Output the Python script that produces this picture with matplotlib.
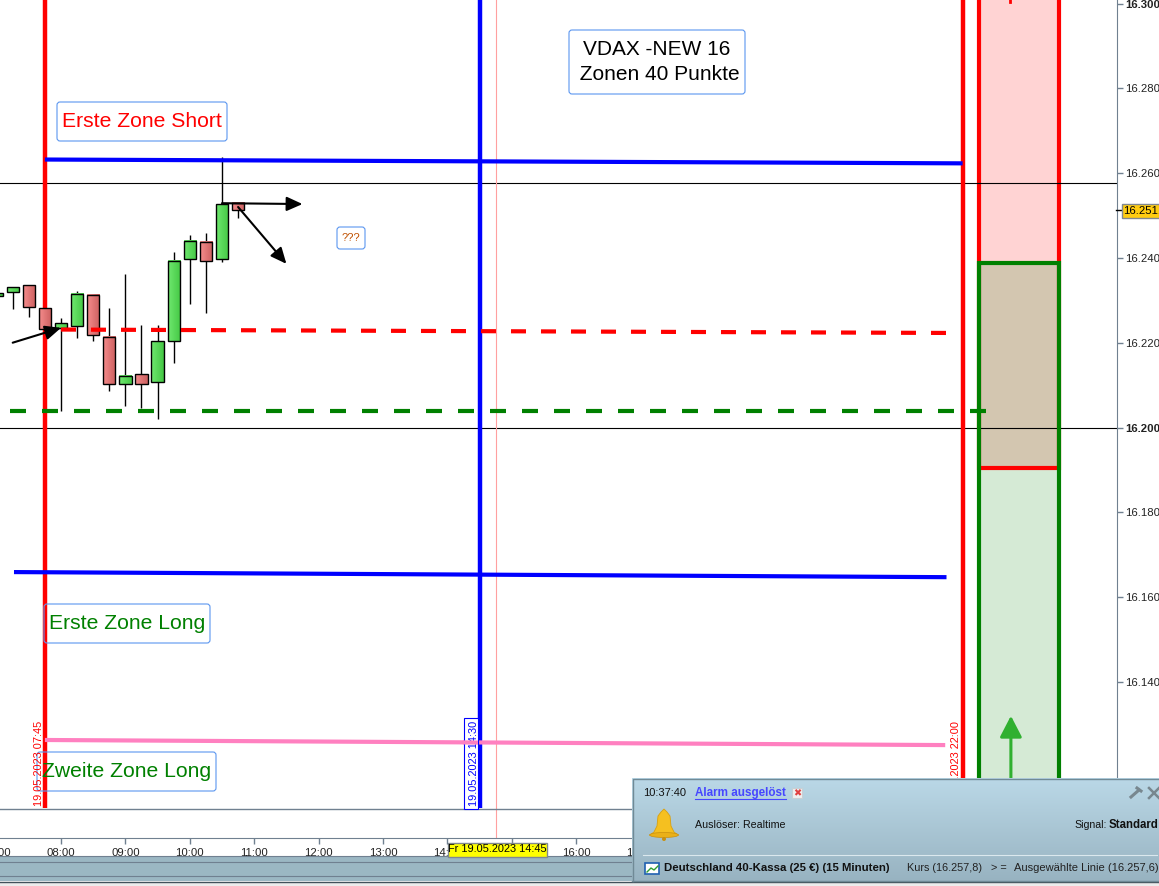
import numpy as np
import matplotlib
matplotlib.use('Agg')
import matplotlib.pyplot as plt
from matplotlib.patches import Rectangle, FancyBboxPatch, Polygon, Ellipse

plt.rcParams['font.family'] = ['Liberation Sans', 'DejaVu Sans']

# candles, times in hours
times = [7.0, 7.25, 7.5, 7.75, 8.0, 8.25, 8.5, 8.75, 9.0, 9.25, 9.5, 9.75, 10.0, 10.25, 10.5, 10.75]
opens = [16231.1, 16232.0, 16233.5, 16228.1, 16223.5, 16224.0, 16231.2, 16221.3, 16210.2, 16212.5, 16210.7, 16220.3, 16239.7, 16243.7, 16239.7, 16252.9]
closes = [16231.7, 16233.1, 16228.5, 16223.2, 16224.6, 16231.6, 16221.7, 16210.2, 16212.1, 16210.2, 16220.3, 16239.2, 16244.1, 16239.2, 16252.6, 16251.2]
highs = [16231.7, 16233.1, 16233.5, 16228.1, 16225.8, 16232.2, 16231.2, 16228.2, 16236.2, 16224.2, 16224.2, 16241.4, 16245.4, 16245.9, 16263.8, 16252.9]
lows = [16231.1, 16228.0, 16226.1, 16223.2, 16204.0, 16221.2, 16220.5, 16208.7, 16205.1, 16204.6, 16202.1, 16215.3, 16229.2, 16227.1, 16239.1, 16249.3]

price_ticks = [16140, 16160, 16180, 16200, 16220, 16240, 16260, 16280, 16300]
bold_ticks = [16200, 16300]
hour_ticks = [7, 8, 9, 10, 11, 12, 13, 14, 15, 16, 17]
hour_labels = ['07:00', '08:00', '09:00', '10:00', '11:00', '12:00', '13:00', '14:00', '', '16:00', '17:00']

# trend lines: start time, end time, start price, end price
blue_top = [7.75, 22.0, 16263.2, 16262.3]
red_dash = [8.0, 21.75, 16223.1, 16222.3]
green_dash = [7.21, 22.37, 16203.9, 16203.9]
blue_low = [7.27, 21.75, 16165.9, 16164.7]
pink = [7.75, 21.73, 16126.3, 16125.1]
h_lines = [16257.7, 16200.0]

zone_x = [22.25, 23.5]
zone_short_bottom = 16190.5
zone_long_top = 16238.8

W, H = 1159, 886
fig = plt.figure(figsize=(W / 100, H / 100), dpi=100, facecolor='white')

def box(l, t, r, b):
    return [l / W, 1 - b / H, (r - l) / W, (b - t) / H]

px_per_h = 64.4
x0 = 8 - 61 / px_per_h
x1 = x0 + 1116.5 / px_per_h

ax = fig.add_axes(box(0, 0, 1116.5, 808))

# zones
ax.add_patch(Rectangle((zone_x[0], zone_long_top), zone_x[1] - zone_x[0], 100, fc='#ffd3d3', ec='none', zorder=1))
ax.add_patch(Rectangle((zone_x[0], zone_short_bottom), zone_x[1] - zone_x[0], zone_long_top - zone_short_bottom, fc='#d3c6b0', ec='none', zorder=1))
ax.add_patch(Rectangle((zone_x[0], 16000), zone_x[1] - zone_x[0], zone_short_bottom - 16000, fc='#d5ead5', ec='none', zorder=1))
ax.plot([zone_x[0], zone_x[0], zone_x[1], zone_x[1]], [16400, zone_short_bottom, zone_short_bottom, 16400], color='#ff0000', lw=3, zorder=2, solid_joinstyle='miter')
ax.plot([zone_x[0], zone_x[0], zone_x[1], zone_x[1]], [16000, zone_long_top, zone_long_top, 16000], color='#008000', lw=3, zorder=3, solid_joinstyle='miter')

for y in h_lines:
    ax.axhline(y, color='black', lw=0.8, zorder=2)

# vertical markers
ax.axvline(7.75, color='#ff0000', lw=3.2, zorder=3)
ax.axvline(22.0, color='#ff0000', lw=3.2, zorder=3)
ax.axvline(14.5, color='#0000ff', lw=3.2, zorder=3)
ax.axvline(14.75, color='#ffa0a0', lw=0.8, zorder=3)

# candles with horizontal gradient
green_grad = matplotlib.colors.LinearSegmentedColormap.from_list('g', ['#6fe86f', '#45c845'])
red_grad = matplotlib.colors.LinearSegmentedColormap.from_list('r', ['#f58c8c', '#cc6060'])
grad = np.linspace(0, 1, 16).reshape(1, -1)
bw = 0.19
for t, o, c, h, l in zip(times, opens, closes, highs, lows):
    ax.plot([t, t], [l, h], color='black', lw=1, zorder=4, solid_capstyle='butt')
    ax.imshow(grad, cmap=green_grad if c >= o else red_grad, aspect='auto', zorder=5,
              extent=[t - bw / 2, t + bw / 2, min(o, c), max(o, c)])
    ax.add_patch(Rectangle((t - bw / 2, min(o, c)), bw, abs(c - o), fc='none', ec='black', lw=1, zorder=5))

# trend lines
ax.plot(blue_top[:2], blue_top[2:], color='#0000ff', lw=3, zorder=6, solid_capstyle='butt')
ax.plot(red_dash[:2], red_dash[2:], color='#ff0000', lw=3, zorder=6, dashes=(3.6, 3.6), dash_capstyle='butt')
ax.plot(green_dash[:2], green_dash[2:], color='#008000', lw=3, zorder=6, dashes=(3.84, 3.84), dash_capstyle='butt')
ax.plot(blue_low[:2], blue_low[2:], color='#0000ff', lw=3, zorder=6, solid_capstyle='butt')
ax.plot(pink[:2], pink[2:], color='#ff80c0', lw=3, zorder=6, solid_capstyle='butt')

# arrows
def arrow(t0, p0, t1, p1, col='black', lw=1.5, ms=16, hl=0.6, hw=0.27):
    ax.annotate('', xy=(t1, p1), xytext=(t0, p0), zorder=7, annotation_clip=False,
                arrowprops=dict(arrowstyle=f'-|>,head_length={hl},head_width={hw}', color=col, lw=lw, mutation_scale=ms, shrinkA=0, shrinkB=0))

arrow(7.25, 16220.0, 8.0, 16223.5)
arrow(10.5, 16252.9, 11.75, 16252.7)
arrow(10.75, 16252.0, 11.5, 16238.6)
arrow(22.75, 16110, 22.75, 16132, col='#30b030', lw=2.2, ms=24, hl=0.54, hw=0.28)

ax.set_xticks([])
ax.yaxis.tick_right()
ax.set_yticks(price_ticks)
ax.set_yticklabels([f'{p // 1000}.{p % 1000:03d}' for p in price_ticks], fontsize=8.2, color='#222222')
ax.tick_params(axis='y', length=4, width=1, color='#708090', pad=2)
ax.set_xlim(x0, x1)
ax.set_ylim(16200 + (427.5 - 808) / 4.24, 16200 + 427.5 / 4.24)
for lab, p in zip(ax.get_yticklabels(), price_ticks):
    if p in bold_ticks:
        lab.set_fontweight('bold')
for s in ['top', 'left']:
    ax.spines[s].set_visible(False)
ax.spines['right'].set_color('#708090')
ax.spines['bottom'].set_visible(False)

# time axis strip, starts left of the figure so 07:00 is still drawn and cut
ax_t = fig.add_axes(box(-20, 808, 1116.5, 838))
ax_t.set_xticks(hour_ticks)
ax_t.set_xticklabels(hour_labels, fontsize=8.2, color='#222222')
ax_t.set_yticks([])
ax_t.tick_params(axis='x', length=4, width=1, color='#708090', pad=3)
ax_t.axvline(14.75, color='#ffa0a0', lw=0.8)
ax_t.set_xlim(x0 - 20 / px_per_h, x1)
ax_t.set_ylim(0, 1)
for s in ['top', 'left']:
    ax_t.spines[s].set_visible(False)
ax_t.spines['right'].set_color('#708090')
ax_t.spines['bottom'].set_color('#708090')

# overlay in pixels: labels, tags, alarm popup
ov = fig.add_axes([0, 0, 1, 1], facecolor='none')
ov.set_xlim(0, W)
ov.set_ylim(H, 0)
ov.axis('off')

ov.plot([0, 1116], [808.5, 808.5], color='#708090', lw=1, zorder=4)
ov.plot([1116, 1121], [210, 210], color='black', lw=1, zorder=4)

def label(l, t, r, b, text, col, size=15.2, z=10):
    ov.add_patch(FancyBboxPatch((l + 2, t + 2), r - l - 4, b - t - 4, boxstyle='round,pad=2,rounding_size=3',
                                fc='none', ec='#5b96f0', lw=0.8, zorder=z))
    ov.text((l + r) / 2, (t + b) / 2, text, color=col, fontsize=size, ha='center', va='center', zorder=z + 1, linespacing=1.35)

label(569, 30, 745, 94, 'VDAX -NEW 16\n Zonen 40 Punkte', 'black', size=15)
label(57, 102, 227, 141, 'Erste Zone Short', '#ff0000')
label(337, 227, 365, 249, '???', '#c05000', size=8)
label(44, 604, 210, 643, 'Erste Zone Long', '#008000')
label(37, 752, 216, 791, 'Zweite Zone Long', '#008000')

# rotated date labels
ov.add_patch(Rectangle((463.5, 717.5), 14.5, 91, fc='white', ec='#0000ff', lw=0.8, zorder=8))
ov.text(39, 806, '19.05.2023 07:45', color='#ff0000', rotation=90, fontsize=7.9, ha='center', va='bottom', zorder=12)
ov.text(474, 806, '19.05.2023 14:30', color='#0000ff', rotation=90, fontsize=7.9, ha='center', va='bottom', zorder=9)
ov.plot([463, 478], [742.4, 742.6], color='#ff80c0', lw=3, zorder=9, solid_capstyle='butt')
ov.text(956, 806, '19.05.2023 22:00', color='#ff0000', rotation=90, fontsize=7.9, ha='center', va='bottom', zorder=9)
ov.plot([1010, 1010], [-1, 2], color='#ff0000', lw=2, zorder=9)

# price tag and time tag
ov.add_patch(Rectangle((1121.5, 203.5), 45, 14, fc='#ffcc10', ec='#808890', lw=1, zorder=10))
ov.text(1123, 210.5, '16.251,', fontsize=8.2, ha='left', va='center', color='black', zorder=11)
ov.add_patch(Rectangle((447.5, 842.5), 99, 14, fc='#ffff00', ec='#808890', lw=1, zorder=10))
ov.text(497, 849.5, 'Fr 19.05.2023 14:45', fontsize=7.9, ha='center', va='center', color='black', zorder=11)

# bottom chrome
ov.add_patch(Rectangle((0, 856), W, 25, fc='#9bb7c3', ec='none', zorder=5))
ov.plot([0, W], [861.5, 861.5], color='#708090', lw=0.8, zorder=6)
ov.plot([0, W], [876, 876], color='#708090', lw=0.8, zorder=6)
ov.plot([0, W], [856, 856], color='#708090', lw=0.8, zorder=6)
ov.plot([0, W], [881.5, 881.5], color='#40505a', lw=1, zorder=6)
ov.add_patch(Rectangle((0, 882), W, 4, fc='#ececec', ec='none', zorder=5))

# alarm popup
pop = np.linspace(0, 1, 64).reshape(-1, 1)
pop_cmap = matplotlib.colors.LinearSegmentedColormap.from_list('pop', ['#bad8e7', '#98b3c1'])
ov.imshow(pop, cmap=pop_cmap, aspect='auto', extent=[632, W, 881, 778], zorder=20)
ov.set_xlim(0, W)
ov.set_ylim(H, 0)
ov.plot([632.5, 632.5, W], [881, 778.5, 778.5], color='#708a96', lw=1, zorder=21)
ov.plot([632, W], [881, 881], color='#708a96', lw=1, zorder=21)
ov.text(643, 793, '10:37:40', fontsize=8.0, va='center', zorder=22, color='#111111')
ov.text(695, 793, 'Alarm ausgelöst', fontsize=8.4, va='center', weight='bold', color='#4646ff', zorder=22)
ov.plot([695, 786], [798.5, 798.5], color='#4646ff', lw=0.8, zorder=22)
ov.add_patch(Rectangle((792, 788), 10, 10, fc='#f0f0f0', ec='#c8d0d4', lw=0.8, zorder=22))
ov.text(797, 793, '✖', fontsize=7, color='#e04040', ha='center', va='center', zorder=23, family='DejaVu Sans')
ov.plot([1131, 1139], [797, 790], color='#78878f', lw=2.2, zorder=22)
ov.plot([1137, 1141], [788, 791], color='#78878f', lw=2.2, zorder=22)
ov.plot([1149, 1159], [788, 798], color='#78878f', lw=1.8, zorder=22)
ov.plot([1149, 1159], [798, 788], color='#78878f', lw=1.8, zorder=22)
ov.text(695, 825, 'Auslöser: Realtime', fontsize=7.7, va='center', zorder=22, color='#111111')
ov.text(1074, 825, 'Signal:', fontsize=7.6, va='center', zorder=22, color='#111111')
ov.text(1109, 825, 'Standard', fontsize=8.3, va='center', weight='bold', zorder=22, color='#111111')

# bell
ov.add_patch(Polygon([(664, 809), (667, 812), (670, 816), (671, 826), (674, 832), (678, 835), (650, 835),
                      (654, 832), (657, 826), (658, 816), (661, 812)],
                     fc='#f5c020', ec='#d8a010', lw=0.6, zorder=22))
ov.add_patch(Ellipse((664, 835), 29, 5, fc='#eab018', ec='#c89010', lw=0.5, zorder=22))
ov.add_patch(Ellipse((664, 839), 4, 4, fc='#c89010', ec='none', zorder=22))

ov.plot([643, 1157], [855, 855], color='#dbe8ee', lw=0.8, zorder=22)
ov.add_patch(Rectangle((645, 863), 14, 11, fc='white', ec='#2060b0', lw=1.2, zorder=22))
ov.plot([647, 651, 654, 658], [872, 868, 870, 866], color='#30a030', lw=1, zorder=23)
ov.text(664, 868, 'Deutschland 40-Kassa (25 €) (15 Minuten)', fontsize=8.2, va='center', weight='bold', zorder=22, color='#111111')
ov.text(907, 868, 'Kurs (16.257,8)', fontsize=7.8, va='center', zorder=22, color='#222222')
ov.text(991, 868, '> =', fontsize=7.8, va='center', zorder=22, color='#222222')
ov.text(1014, 868, 'Ausgewählte Linie (16.257,6)', fontsize=8.0, va='center', zorder=22, color='#222222')

fig.savefig('out.png', dpi=100)
